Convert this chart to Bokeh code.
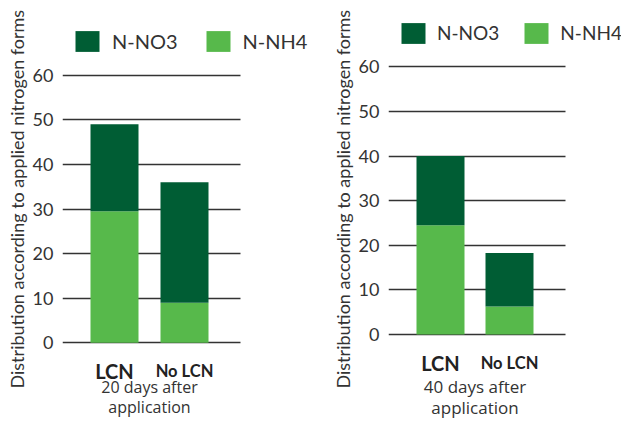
from bokeh.plotting import figure
from bokeh.models import FixedTicker, Legend, LegendItem, ColumnDataSource, Range1d, Title
from bokeh.core.properties import value
from bokeh.layouts import row
from bokeh.embed import file_html
from bokeh.resources import INLINE

categories = ["LCN", "No LCN"]
nh4_20 = [29.5, 9.0]
no3_20 = [19.5, 27.0]
nh4_40 = [24.5, 6.3]
no3_40 = [15.5, 12.0]
y_ticks = [0, 10, 20, 30, 40, 50, 60]
x_titles = ["20 days after\napplication", "40 days after\napplication"]
y_title = "Distribution according to applied nitrogen forms"
legend_labels = ["N-NO3", "N-NH4"]

# styles
DARK = "#005d34"
LIGHT = "#57b94b"
FONT = "Lato"
cat_font_sizes = ["20px", "16.5px"]
PX_PER_UNIT = 4.46
HEIGHT = 418
TOP = 12


def make_chart(nh4, no3, xlabel, width, b_left, zero_from_bottom, unit_px,
               first_px, grid_px, leg_y, leg_font, leg_standoff, leg_spacing,
               sub_font, sub_lh, sub_off):
    fw = width - b_left
    fh = HEIGHT - TOP
    x0 = 0.5 - first_px / unit_px
    y0 = -zero_from_bottom / PX_PER_UNIT
    p = figure(x_range=Range1d(x0, x0 + fw / unit_px),
               y_range=Range1d(y0, y0 + fh / PX_PER_UNIT),
               width=width, height=HEIGHT,
               output_backend="svg", toolbar_location=None,
               min_border_left=b_left, min_border_right=0,
               min_border_top=TOP, min_border_bottom=0)
    p.outline_line_color = None
    p.background_fill_color = None
    p.border_fill_color = None
    xs = [i + 0.5 for i in range(len(categories))]
    src = ColumnDataSource(dict(x=xs, cat=categories, nh4=nh4, no3=no3,
                                fs=cat_font_sizes, zero=[0] * len(xs)))
    rs = p.vbar_stack(["nh4", "no3"], x="x", width=48 / unit_px, source=src,
                      color=[LIGHT, DARK], line_color=None)

    # category labels under the bars
    p.text(x="x", y="zero", text="cat", source=src, text_font=value(FONT),
           text_font_size="fs", text_font_style="bold", text_color="#222222",
           text_align="center", text_baseline="alphabetic", y_offset=28.5)
    # sub-title under the categories
    sub = ColumnDataSource(dict(x=[sum(xs) / len(xs)], y=[0], t=[xlabel]))
    p.text(x="x", y="y", text="t", source=sub, text_font=value("Open Sans"),
           text_font_size=sub_font, text_color="#333333", text_align="center",
           text_baseline="top", text_line_height=sub_lh, y_offset=sub_off)

    legend = Legend(items=[LegendItem(label=legend_labels[0], renderers=[rs[1]]),
                           LegendItem(label=legend_labels[1], renderers=[rs[0]])],
                    orientation="horizontal", location=(10, leg_y))
    legend.glyph_width = 30
    legend.glyph_height = 26
    legend.label_height = 26
    legend.label_text_font_size = leg_font
    legend.label_text_font = FONT
    legend.label_text_color = "#333333"
    legend.label_standoff = leg_standoff
    legend.spacing = leg_spacing
    legend.padding = 0
    legend.margin = 0
    legend.border_line_color = None
    legend.background_fill_alpha = 0
    p.add_layout(legend)

    p.xaxis.visible = False
    p.xgrid.visible = False
    p.yaxis.ticker = FixedTicker(ticks=y_ticks)
    g = p.ygrid[0]
    g.grid_line_color = "#333333"
    g.grid_line_width = 1.5
    try:
        g.cross_bounds = (x0, x0 + grid_px / unit_px)
    except Exception:
        pass

    ya = p.yaxis[0]
    ya.axis_line_color = None
    ya.major_tick_line_color = None
    ya.minor_tick_line_color = None
    ya.major_tick_out = 0
    ya.major_label_text_font = FONT
    ya.major_label_text_font_size = "18px"
    ya.major_label_text_color = "#333333"
    ya.major_label_standoff = 9

    t = Title(text=y_title, align="left", offset=30, standoff=4,
              text_font=FONT, text_font_size="18px", text_font_style="normal",
              text_color="#333333")
    p.add_layout(t, "left")
    return p


p1 = make_chart(nh4_20, no3_20, x_titles[0], 315, 62, 418 - 342.3, 70, 52, 178,
                363.7, "20px", 10, 25, "16px", 0.9, 33)
p2 = make_chart(nh4_40, no3_40, x_titles[1], 306, 73, 418 - 334, 69, 52, 177,
                372.3, "19px", 9, 22, "17px", 0.92, 40)

layout = row(p1, p2)
open("out.html", "w").write(file_html(layout, INLINE))
